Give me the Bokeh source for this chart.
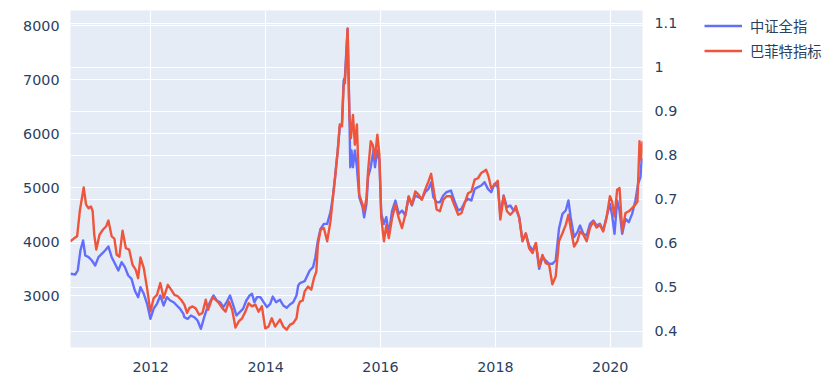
import pandas as pd
from bokeh.plotting import figure
from bokeh.layouts import row
from bokeh.models import (Range1d, LinearAxis, FixedTicker, Grid, Legend, LegendItem,
                          NumeralTickFormatter, DatetimeTickFormatter)
from bokeh.embed import file_html
from bokeh.resources import INLINE

series_names = ["中证全指", "巴菲特指标"]
series_colors = ["#636efa", "#EF553B"]

csi_dates = [
    "2010-08-09", "2010-09-09", "2010-09-24", "2010-10-11", "2010-10-28", "2010-11-11", "2010-12-02",
    "2010-12-23", "2011-01-13", "2011-02-03", "2011-02-24", "2011-03-17", "2011-04-07", "2011-04-28",
    "2011-05-19", "2011-06-09", "2011-06-30", "2011-07-21", "2011-08-11", "2011-09-01", "2011-09-22",
    "2011-10-13", "2011-10-28", "2011-11-18", "2011-12-09", "2011-12-30", "2012-01-20", "2012-02-10",
    "2012-03-02", "2012-03-23", "2012-04-13", "2012-05-04", "2012-05-25", "2012-06-15", "2012-07-06",
    "2012-07-27", "2012-08-02", "2012-08-23", "2012-09-13", "2012-10-04", "2012-10-25", "2012-11-15",
    "2012-12-06", "2012-12-27", "2013-01-17", "2013-02-03", "2013-02-24", "2013-03-17", "2013-04-07",
    "2013-04-28", "2013-05-19", "2013-06-09", "2013-06-29", "2013-07-20", "2013-08-10", "2013-08-31",
    "2013-09-21", "2013-10-06", "2013-10-21", "2013-11-07", "2013-11-28", "2013-12-19", "2014-01-09",
    "2014-01-30", "2014-02-15", "2014-03-08", "2014-04-02", "2014-04-23", "2014-05-14", "2014-06-04",
    "2014-06-25", "2014-07-16", "2014-07-27", "2014-08-07", "2014-09-06", "2014-10-08", "2014-10-29",
    "2014-11-13", "2014-11-29", "2014-12-16", "2015-01-06", "2015-01-27", "2015-02-17", "2015-03-04",
    "2015-03-18", "2015-04-04", "2015-04-17", "2015-05-01", "2015-05-12", "2015-05-20", "2015-05-29",
    "2015-06-06", "2015-06-17", "2015-06-23", "2015-07-01", "2015-07-10", "2015-07-22", "2015-08-04",
    "2015-08-19", "2015-09-09", "2015-09-19", "2015-10-04", "2015-10-14", "2015-10-31", "2015-11-17",
    "2015-11-27", "2015-12-12", "2015-12-25", "2016-01-06", "2016-01-23", "2016-02-07", "2016-02-23",
    "2016-03-15", "2016-04-05", "2016-04-26", "2016-05-17", "2016-06-07", "2016-06-28", "2016-07-19",
    "2016-08-09", "2016-08-30", "2016-09-20", "2016-10-11", "2016-11-01", "2016-11-18", "2016-12-02",
    "2016-12-23", "2017-01-13", "2017-02-03", "2017-02-24", "2017-03-24", "2017-04-18", "2017-05-09",
    "2017-05-30", "2017-06-20", "2017-07-11", "2017-08-01", "2017-08-22", "2017-09-12", "2017-10-03",
    "2017-10-24", "2017-11-14", "2017-12-05", "2017-12-26", "2018-01-16", "2018-02-01", "2018-02-22",
    "2018-03-15", "2018-04-05", "2018-04-26", "2018-05-11", "2018-06-01", "2018-06-22", "2018-07-13",
    "2018-08-03", "2018-08-25", "2018-09-15", "2018-10-06", "2018-10-27", "2018-11-17", "2018-12-08",
    "2018-12-29", "2019-01-19", "2019-02-09", "2019-03-03", "2019-03-24", "2019-04-10", "2019-04-24",
    "2019-05-16", "2019-06-06", "2019-06-23", "2019-07-14", "2019-08-04", "2019-08-25", "2019-09-15",
    "2019-10-06", "2019-10-27", "2019-11-17", "2019-12-08", "2019-12-30", "2020-01-13", "2020-01-28",
    "2020-02-14", "2020-02-29", "2020-03-17", "2020-04-07", "2020-04-28", "2020-05-19", "2020-06-09",
    "2020-06-26", "2020-07-11", "2020-07-19", "2020-07-24",
]
csi_values = [
    3402, 3390, 3463, 3833, 4019, 3741, 3710,
    3648, 3556, 3710, 3772, 3833, 3907, 3710,
    3587, 3463, 3617, 3525, 3370, 3309, 3093,
    2969, 3154, 3031, 2846, 2568, 2759, 2846,
    3000, 2815, 2969, 2907, 2876, 2815, 2753,
    2660, 2598, 2568, 2630, 2598, 2537, 2383,
    2598, 2784, 2907, 3000, 2907, 2876, 2784,
    2876, 3000, 2815, 2630, 2691, 2753, 2907,
    3000, 3031, 2876, 2969, 2969, 2876, 2784,
    2846, 2981, 2876, 2920, 2815, 2772, 2833,
    2876, 3000, 3185, 3230, 3265, 3463, 3525,
    3710, 4019, 4235, 4327, 4327, 4543, 4821,
    5191, 5685, 6117, 6179, 6981, 7043, 7537,
    7938, 6426, 5376, 5685, 5376, 5685, 5376,
    4821, 4636, 4450, 4698, 5191, 5376, 5685,
    5376, 5685, 5500, 4512, 4327, 4450, 4142,
    4574, 4759, 4512, 4574, 4481, 4821, 4667,
    4852, 4821, 4790, 4913, 4975, 5099, 4821,
    4728, 4728, 4852, 4913, 4944, 4728, 4574,
    4605, 4728, 4790, 4759, 4975, 5006, 5037,
    5099, 4975, 4913, 5068, 5006, 4481, 4852,
    4636, 4667, 4574, 4600, 4450, 4019, 4142,
    3926, 3833, 3957, 3494, 3710, 3648, 3587,
    3587, 3648, 4235, 4512, 4574, 4759, 4450,
    4080, 4173, 4296, 4142, 4111, 4327, 4389,
    4296, 4327, 4204, 4450, 4698, 4481, 4142,
    4759, 4574, 4142, 4420, 4358, 4512, 4759,
    5068, 5191, 5531, 5438,
]

buffett_dates = [
    "2010-08-09", "2010-08-30", "2010-09-20", "2010-10-07", "2010-10-17", "2010-11-01", "2010-11-16",
    "2010-12-02", "2010-12-17", "2010-12-28", "2011-01-07", "2011-01-20", "2011-02-10", "2011-03-03",
    "2011-03-24", "2011-04-07", "2011-04-28", "2011-05-15", "2011-05-30", "2011-06-16", "2011-07-06",
    "2011-07-27", "2011-08-17", "2011-09-07", "2011-09-28", "2011-10-13", "2011-10-28", "2011-11-18",
    "2011-12-09", "2011-12-30", "2012-01-20", "2012-02-10", "2012-03-02", "2012-03-23", "2012-04-19",
    "2012-05-10", "2012-05-31", "2012-06-21", "2012-07-12", "2012-08-02", "2012-08-19", "2012-09-02",
    "2012-09-23", "2012-10-14", "2012-11-04", "2012-11-25", "2012-12-16", "2012-12-31", "2013-01-27",
    "2013-02-17", "2013-03-10", "2013-03-31", "2013-04-21", "2013-05-12", "2013-06-02", "2013-06-23",
    "2013-07-14", "2013-08-04", "2013-08-25", "2013-09-15", "2013-10-06", "2013-10-27", "2013-11-17",
    "2013-12-08", "2013-12-29", "2014-01-19", "2014-02-09", "2014-03-02", "2014-04-02", "2014-04-23",
    "2014-05-14", "2014-06-04", "2014-06-25", "2014-07-16", "2014-07-27", "2014-08-07", "2014-08-24",
    "2014-09-06", "2014-09-27", "2014-10-18", "2014-11-04", "2014-11-19", "2014-11-29", "2014-12-16",
    "2015-01-06", "2015-01-27", "2015-02-17", "2015-03-04", "2015-03-18", "2015-04-04", "2015-04-17",
    "2015-05-01", "2015-05-12", "2015-05-20", "2015-05-29", "2015-06-06", "2015-06-17", "2015-06-27",
    "2015-07-10", "2015-07-22", "2015-08-04", "2015-08-19", "2015-09-09", "2015-09-19", "2015-10-04",
    "2015-10-14", "2015-10-31", "2015-11-13", "2015-11-27", "2015-12-12", "2015-12-25", "2016-01-06",
    "2016-01-23", "2016-02-07", "2016-02-23", "2016-03-15", "2016-04-05", "2016-04-26", "2016-05-17",
    "2016-06-07", "2016-06-28", "2016-07-19", "2016-08-09", "2016-08-30", "2016-09-20", "2016-10-11",
    "2016-11-01", "2016-11-18", "2016-12-02", "2016-12-23", "2017-01-13", "2017-02-03", "2017-02-24",
    "2017-03-24", "2017-04-18", "2017-05-09", "2017-05-30", "2017-06-20", "2017-07-11", "2017-08-01",
    "2017-08-22", "2017-09-12", "2017-10-03", "2017-11-03", "2017-11-18", "2017-12-05", "2017-12-26",
    "2018-01-16", "2018-02-01", "2018-02-22", "2018-03-15", "2018-04-05", "2018-04-26", "2018-05-11",
    "2018-06-01", "2018-06-22", "2018-07-13", "2018-08-03", "2018-08-25", "2018-09-15", "2018-10-06",
    "2018-10-27", "2018-11-17", "2018-12-08", "2018-12-29", "2019-01-19", "2019-02-09", "2019-03-03",
    "2019-03-24", "2019-04-10", "2019-04-24", "2019-05-16", "2019-06-06", "2019-06-23", "2019-07-14",
    "2019-08-04", "2019-08-25", "2019-09-15", "2019-10-06", "2019-10-27", "2019-11-17", "2019-12-08",
    "2019-12-30", "2020-01-13", "2020-01-28", "2020-02-14", "2020-02-29", "2020-03-17", "2020-04-07",
    "2020-04-28", "2020-05-19", "2020-06-09", "2020-06-22", "2020-07-05", "2020-07-15", "2020-07-24",
]
buffett_values = [
    0.605, 0.611, 0.616, 0.673, 0.695, 0.727, 0.688,
    0.680, 0.684, 0.673, 0.620, 0.586, 0.620, 0.631,
    0.639, 0.652, 0.616, 0.611, 0.574, 0.570, 0.629,
    0.589, 0.586, 0.552, 0.540, 0.521, 0.568, 0.544,
    0.498, 0.445, 0.476, 0.483, 0.510, 0.476, 0.506,
    0.495, 0.483, 0.480, 0.472, 0.461, 0.442, 0.453,
    0.457, 0.452, 0.438, 0.442, 0.472, 0.449, 0.477,
    0.472, 0.464, 0.453, 0.445, 0.468, 0.449, 0.409,
    0.423, 0.430, 0.445, 0.464, 0.457, 0.461, 0.445,
    0.457, 0.407, 0.411, 0.430, 0.411, 0.427, 0.411,
    0.404, 0.415, 0.419, 0.430, 0.457, 0.468, 0.470,
    0.491, 0.502, 0.495, 0.521, 0.536, 0.597, 0.631,
    0.635, 0.605, 0.650, 0.703, 0.748, 0.809, 0.870,
    0.866, 0.961, 0.964, 1.029, 1.088, 0.892, 0.839,
    0.892, 0.824, 0.870, 0.711, 0.688, 0.673, 0.703,
    0.764, 0.832, 0.824, 0.794, 0.847, 0.802, 0.658,
    0.605, 0.642, 0.612, 0.658, 0.688, 0.658, 0.635,
    0.665, 0.707, 0.688, 0.718, 0.711, 0.699, 0.722,
    0.741, 0.758, 0.726, 0.677, 0.673, 0.699, 0.707,
    0.707, 0.684, 0.665, 0.669, 0.692, 0.714, 0.718,
    0.745, 0.748, 0.760, 0.767, 0.752, 0.726, 0.733,
    0.742, 0.654, 0.707, 0.673, 0.665, 0.673, 0.685,
    0.658, 0.605, 0.623, 0.589, 0.578, 0.601, 0.548,
    0.574, 0.555, 0.552, 0.507, 0.525, 0.605, 0.623,
    0.642, 0.665, 0.635, 0.593, 0.605, 0.627, 0.620,
    0.605, 0.635, 0.650, 0.636, 0.642, 0.627, 0.658,
    0.707, 0.695, 0.661, 0.722, 0.726, 0.627, 0.669,
    0.673, 0.680, 0.688, 0.695, 0.832, 0.790, 0.832,
]

year_ticks = ["2012-01-01", "2014-01-01", "2016-01-01", "2018-01-01", "2020-01-01"]
left_ticks = [3000, 4000, 5000, 6000, 7000, 8000]
right_ticks = [0.4, 0.5, 0.6, 0.7, 0.8, 0.9, 1.0, 1.1]
left_range = (2037, 8278)
right_range = (0.3636, 1.129)

x_csi = pd.to_datetime(csi_dates)
x_buf = pd.to_datetime(buffett_dates)
x_tick_ms = [pd.Timestamp(d).value / 1e6 for d in year_ticks]

FONT = "DejaVu Sans, Noto Sans CJK SC"
FS = "14.3px"
TXT = "#2a3f5f"

# ---- main chart ----
p = figure(width=680, height=377, x_axis_type="datetime", output_backend="svg",
           toolbar_location=None,
           x_range=Range1d(x_csi[0], x_csi[-1]),
           y_range=Range1d(*left_range),
           min_border_left=70, min_border_right=32, min_border_top=10, min_border_bottom=30)
p.extra_y_ranges = {"y2": Range1d(*right_range)}

p.background_fill_color = "#E5ECF6"
p.border_fill_color = "white"
p.outline_line_color = None

p.xaxis.ticker = FixedTicker(ticks=x_tick_ms)
p.xaxis.formatter = DatetimeTickFormatter(years="%Y", months="%Y", days="%Y", hours="%Y")
p.xgrid.ticker = FixedTicker(ticks=x_tick_ms)
p.yaxis.ticker = FixedTicker(ticks=left_ticks)
p.ygrid.ticker = FixedTicker(ticks=left_ticks)

ax2 = LinearAxis(y_range_name="y2", ticker=FixedTicker(ticks=right_ticks),
                 formatter=NumeralTickFormatter(format="0.[0]"))
p.add_layout(ax2, "right")
g2 = Grid(dimension=1, ticker=FixedTicker(ticks=right_ticks), y_range_name="y2")
p.add_layout(g2)

for g in [p.xgrid[0], p.ygrid[0], g2]:
    g.grid_line_color = "white"
    g.grid_line_width = 1.2

for ax in [p.xaxis[0], p.yaxis[0], ax2]:
    ax.axis_line_color = None
    ax.major_tick_line_color = None
    ax.minor_tick_line_color = None
    ax.major_label_text_font = FONT
    ax.major_label_text_font_size = FS
    ax.major_label_text_color = TXT
p.xaxis.major_label_standoff = 8
p.yaxis.major_label_standoff = 5
ax2.major_label_standoff = 6

p.line(x_csi, csi_values, line_color=series_colors[0], line_width=2.4, line_join="round")
p.line(x_buf, buffett_values, y_range_name="y2", line_color=series_colors[1],
       line_width=2.4, line_join="round")

# ---- legend panel (its renderers reuse the series, outside this panel's view) ----
pl = figure(width=146, height=377, output_backend="svg", toolbar_location=None,
            x_range=Range1d(0, 1), y_range=Range1d(0, 1),
            x_axis_location=None, y_axis_location=None,
            min_border_left=0, min_border_right=0, min_border_top=0, min_border_bottom=0)
pl.grid.visible = False
pl.outline_line_color = None
pl.background_fill_color = "white"
pl.border_fill_color = "white"
lr1 = pl.line(x_csi, csi_values, line_color=series_colors[0], line_width=2.4)
lr2 = pl.line(x_buf, buffett_values, line_color=series_colors[1], line_width=2.4)

legend = Legend(items=[LegendItem(label=series_names[0], renderers=[lr1]),
                       LegendItem(label=series_names[1], renderers=[lr2])],
                location=(24, 286), padding=0, margin=0, spacing=4,
                glyph_width=38, glyph_height=19, label_height=19, label_standoff=8,
                border_line_alpha=0, background_fill_alpha=0,
                label_text_font=FONT, label_text_font_size=FS, label_text_color=TXT)
pl.add_layout(legend)

layout = row(p, pl)
open("out.html", "w").write(file_html(layout, INLINE))
